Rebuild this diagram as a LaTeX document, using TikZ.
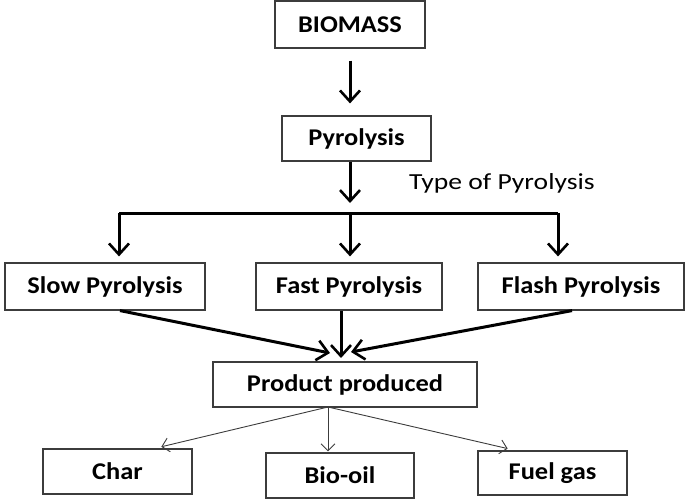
\documentclass[tikz,border=0pt]{standalone}
\usepackage{fontspec}
\setmainfont{Carlito}
\newfontfamily\widefont[FakeStretch=1.1]{Carlito}
\newfontfamily\widerfont[FakeStretch=1.2]{Carlito}
\definecolor{boxline}{RGB}{60, 60, 60}
\usetikzlibrary{calc,arrows.meta,positioning}
\tikzset{
  stagebox/.style={draw=boxline, line width=1.2pt, inner sep=0pt, font=\widefont\fontsize{24}{28}\selectfont\bfseries},
  bigarrow/.style={line width=3pt, -{Straight Barb[length=11pt,width=20pt,line width=2.6pt]}},
  smallarrow/.style={line width=0.9pt, draw=boxline, -{Straight Barb[length=7pt,width=14pt,line width=0.9pt]}}
}

\begin{document}
\begin{tikzpicture}[x=1pt,y=-1pt]
  \useasboundingbox (0,0) rectangle (685,500);
  % boxes
  \node[stagebox, minimum width=150pt, minimum height=47pt] (biomass) at (350,24.5) {BIOMASS};
  \node[stagebox, minimum width=149pt, minimum height=45pt] (pyro) at (356.5,138.5) {Pyrolysis};
  \node[font=\widerfont\fontsize{23}{26}\selectfont, anchor=west, inner sep=0pt] (type) at (409,183) {Type of Pyrolysis};
  \node[stagebox, minimum width=200pt, minimum height=47pt] (slow) at (105,286.5) {Slow Pyrolysis};
  \node[stagebox, minimum width=186pt, minimum height=47pt] (fast) at (349,286.5) {Fast Pyrolysis};
  \node[stagebox, minimum width=206pt, minimum height=47pt] (flash) at (581,286.5) {Flash Pyrolysis};
  \node[stagebox, minimum width=264pt, minimum height=45pt] (product) at (345,384.5) {Product produced};
  \node[stagebox, minimum width=149pt, minimum height=45pt] (char) at (117.5,471.5) {Char};
  \node[stagebox, minimum width=148pt, minimum height=45pt] (biooil) at (340,475.5) {Bio-oil};
  \node[stagebox, minimum width=149pt, minimum height=44pt] (fuelgas) at (552.5,473) {Fuel gas};
  % branch points
  \coordinate (split) at (350,213);
  \coordinate (brL) at (119,213);
  \coordinate (brR) at (558,213);
  \coordinate (meetL) at (330,353);
  \coordinate (meet) at (341,358);
  \coordinate (meetR) at (351,352);
  \coordinate (spread) at (328,407);
  % thick arrows
  \draw[bigarrow, shorten <=12pt, shorten >=12pt] (biomass.south) -- (biomass.south |- pyro.north);
  \draw[bigarrow] (pyro.south -| split) -- ([yshift=10pt]split);
  \draw[line width=3pt] (brL) -- (brR);
  \draw[bigarrow, shorten >=6pt] (brL) -- (brL |- slow.north);
  \draw[bigarrow, shorten >=6pt] (split) -- (split |- fast.north);
  \draw[bigarrow, shorten >=6pt] (brR) -- (brR |- flash.north);
  \draw[bigarrow] ([xshift=15pt]slow.south) -- (meetL);
  \draw[bigarrow] (meet |- fast.south) -- (meet);
  \draw[bigarrow] ([xshift=-9pt]flash.south) -- (meetR);
  % thin arrows
  \draw[smallarrow, shorten >=7pt] (spread) -- ([xshift=37pt]char.north);
  \draw[smallarrow, shorten >=1pt] (spread) -- (spread |- biooil.north);
  \draw[smallarrow, shorten >=8pt] (spread) -- ([xshift=-37pt]fuelgas.north);
\end{tikzpicture}
\end{document}
